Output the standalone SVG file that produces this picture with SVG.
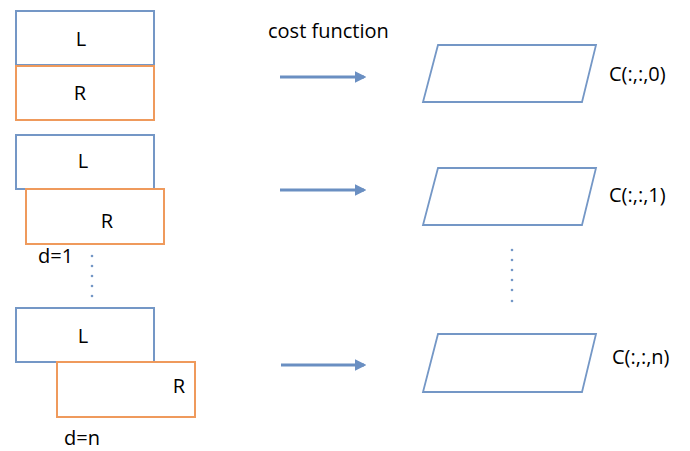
<svg xmlns="http://www.w3.org/2000/svg" width="690" height="451" viewBox="0 0 690 451">
<defs>
<style>
.lb{fill:#fff;stroke:#7497c6;stroke-width:2}
.rb{fill:#fff;stroke:#ef9a5c;stroke-width:2}
.pg{fill:#fff;stroke:#7497c6;stroke-width:1.8}
.t{font-family:"Open Sans","Liberation Sans",sans-serif;font-size:20px;fill:#000}
.dot{fill:#7497c6}
.arr{stroke:#6a8fc2;stroke-width:3;fill:none;marker-end:url(#ah)}
</style>
<marker id="ah" viewBox="0 0 10 10" refX="8" refY="5" markerWidth="3.8" markerHeight="3.8" orient="auto" markerUnits="strokeWidth">
<path d="M0,0 L10,5 L0,10 Z" fill="#6a8fc2"/>
</marker>
</defs>
<rect width="690" height="451" fill="#fff"/>
<g id="pair0">
<rect class="lb" x="16" y="11" width="138" height="54"/>
<text class="t" x="81" y="46" text-anchor="middle">L</text>
<rect class="rb" x="16" y="66" width="138" height="54"/>
<text class="t" x="80" y="100" text-anchor="middle">R</text>
</g>
<g id="pair1">
<rect class="lb" x="16" y="135" width="138" height="54"/>
<text class="t" x="83" y="168" text-anchor="middle">L</text>
<rect class="rb" x="26" y="189" width="138" height="55"/>
<text class="t" x="107" y="228" text-anchor="middle">R</text>
<text class="t" x="38" y="263">d=1</text>
</g>
<g id="pair2">
<rect class="lb" x="16" y="308" width="138" height="54"/>
<text class="t" x="83" y="343" text-anchor="middle">L</text>
<rect class="rb" x="57" y="362" width="138" height="55"/>
<text class="t" x="179" y="393" text-anchor="middle">R</text>
<text class="t" x="64" y="445">d=n</text>
</g>
<g id="leftdots">
<circle class="dot" cx="92" cy="256" r="1.3"/>
<circle class="dot" cx="92" cy="266" r="1.3"/>
<circle class="dot" cx="92" cy="276" r="1.3"/>
<circle class="dot" cx="92" cy="286" r="1.3"/>
<circle class="dot" cx="92" cy="296" r="1.3"/>
</g>
<text class="t" x="268" y="38">cost function</text>
<g id="connectors">
<line class="arr" x1="280" y1="77" x2="364" y2="77"/>
<line class="arr" x1="280" y1="190" x2="364" y2="190"/>
<line class="arr" x1="281" y1="365" x2="364" y2="365"/>
</g>
<g id="c0">
<polygon class="pg" points="438,45 596,45 582,102 423,102"/>
<text class="t" x="609" y="81">C(:,:,0)</text>
</g>
<g id="c1">
<polygon class="pg" points="438,168 596,168 582,225 423,225"/>
<text class="t" x="609" y="202">C(:,:,1)</text>
</g>
<g id="rightdots">
<circle class="dot" cx="512" cy="250" r="1.3"/>
<circle class="dot" cx="512" cy="260" r="1.3"/>
<circle class="dot" cx="512" cy="270" r="1.3"/>
<circle class="dot" cx="512" cy="280" r="1.3"/>
<circle class="dot" cx="512" cy="290" r="1.3"/>
<circle class="dot" cx="512" cy="301" r="1.3"/>
</g>
<g id="cn">
<polygon class="pg" points="438,334 596,334 582,392 423,392"/>
<text class="t" x="612" y="364">C(:,:,n)</text>
</g>
</svg>
